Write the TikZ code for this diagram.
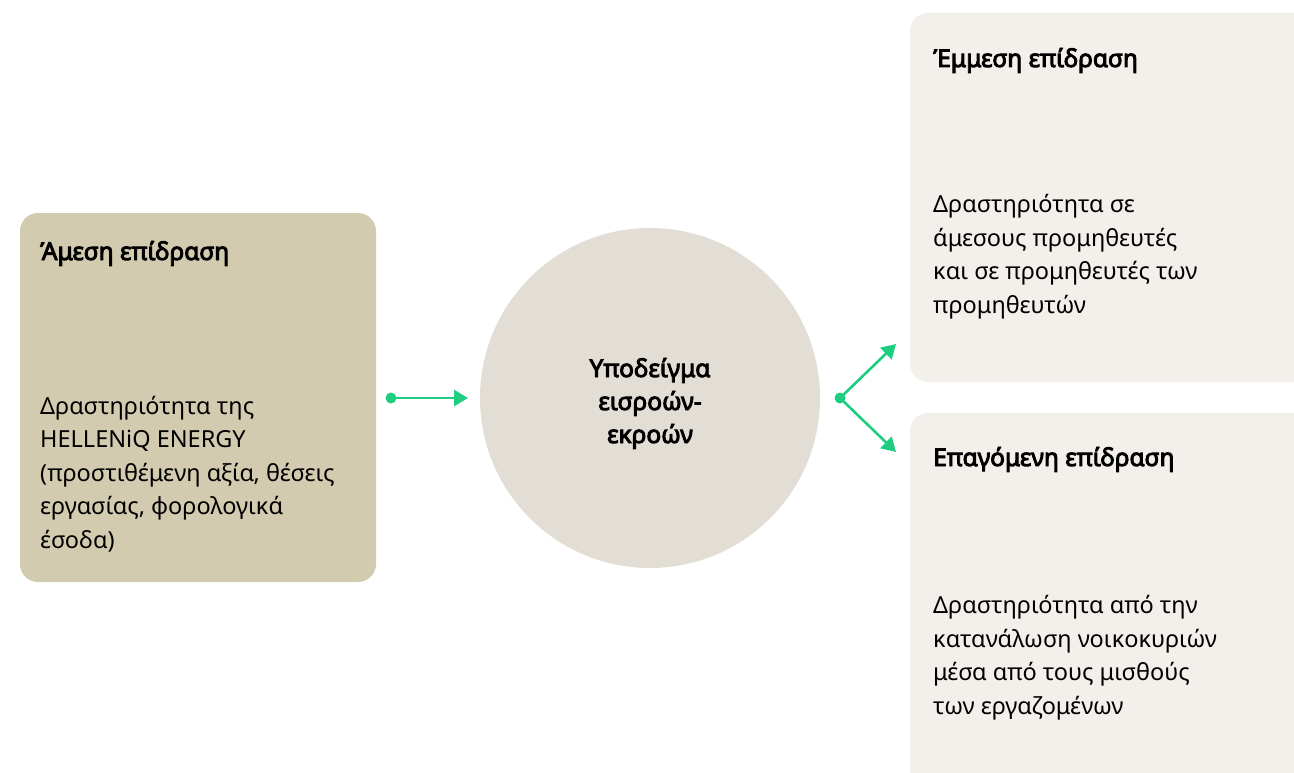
\documentclass[tikz,border=0pt]{standalone}
\usepackage{fontspec}
\setmainfont{Noto Sans}[AutoFakeBold=3.8]
\usetikzlibrary{arrows.meta}
\definecolor{dirfill}{HTML}{D3CBAF}
\definecolor{circfill}{HTML}{E3DED5}
\definecolor{indfill}{HTML}{F3F0EB}
\definecolor{arrowgreen}{HTML}{1DCE80}
\tikzset{
  panel/.style={rounded corners=18pt, draw=none},
  title/.style={anchor=base west, inner sep=0pt, font=\fontsize{24.5}{27}\selectfont\bfseries},
  body/.style={anchor=base west, inner sep=0pt, align=left, font=\fontsize{23.5}{33.5}\selectfont},
  conn/.style={arrowgreen, line width=2.6pt, -{Triangle[length=14pt,width=16pt]}},
  dot/.style={circle, fill=arrowgreen, inner sep=0pt, minimum size=11pt}
}
\begin{document}
\begin{tikzpicture}[x=1pt,y=-1pt]
\useasboundingbox (0,0) rectangle (1294,773);
\clip (0,0) rectangle (1294,773);
% panels
\fill[dirfill, panel] (20,213) rectangle (376,582);
\fill[circfill] (650,398) circle (170);
\fill[indfill, panel] (910,13) rectangle (1312,382);
\fill[indfill, panel] (910,413) rectangle (1312,790);
% texts
\node[title] (t1) at (40,260) {Άμεση επίδραση};
\node[body] (b1) at (40,548) {Δραστηριότητα της\\HELLENiQ ENERGY\\(προστιθέμενη αξία, θέσεις\\εργασίας, φορολογικά\\έσοδα)};
\node[anchor=base, align=center, inner sep=0pt, font=\fontsize{24.5}{33}\selectfont\bfseries] (c) at (650,443) {Υποδείγμα\\εισροών-\\εκροών};
\node[title] (t2) at (933,67) {Έμμεση επίδραση};
\node[body] (b2) at (933,313) {Δραστηριότητα σε\\άμεσους προμηθευτές\\και σε προμηθευτές των\\προμηθευτών};
\node[title] (t3) at (933,466) {Επαγόμενη επίδραση};
\node[body] (b3) at (933,714) {Δραστηριότητα από την\\κατανάλωση νοικοκυριών\\μέσα από τους μισθούς\\των εργαζομένων};
% connectors
\node[dot] (d1) at (391,398) {};
\coordinate (e1) at (468,398);
\draw[conn] (d1.center) -- (e1);
\node[dot] (d2) at (840,398) {};
\coordinate (e2) at (896,344);
\coordinate (e3) at (896,452);
\draw[conn] (d2.center) -- (e2);
\draw[conn] (d2.center) -- (e3);
\end{tikzpicture}
\end{document}
